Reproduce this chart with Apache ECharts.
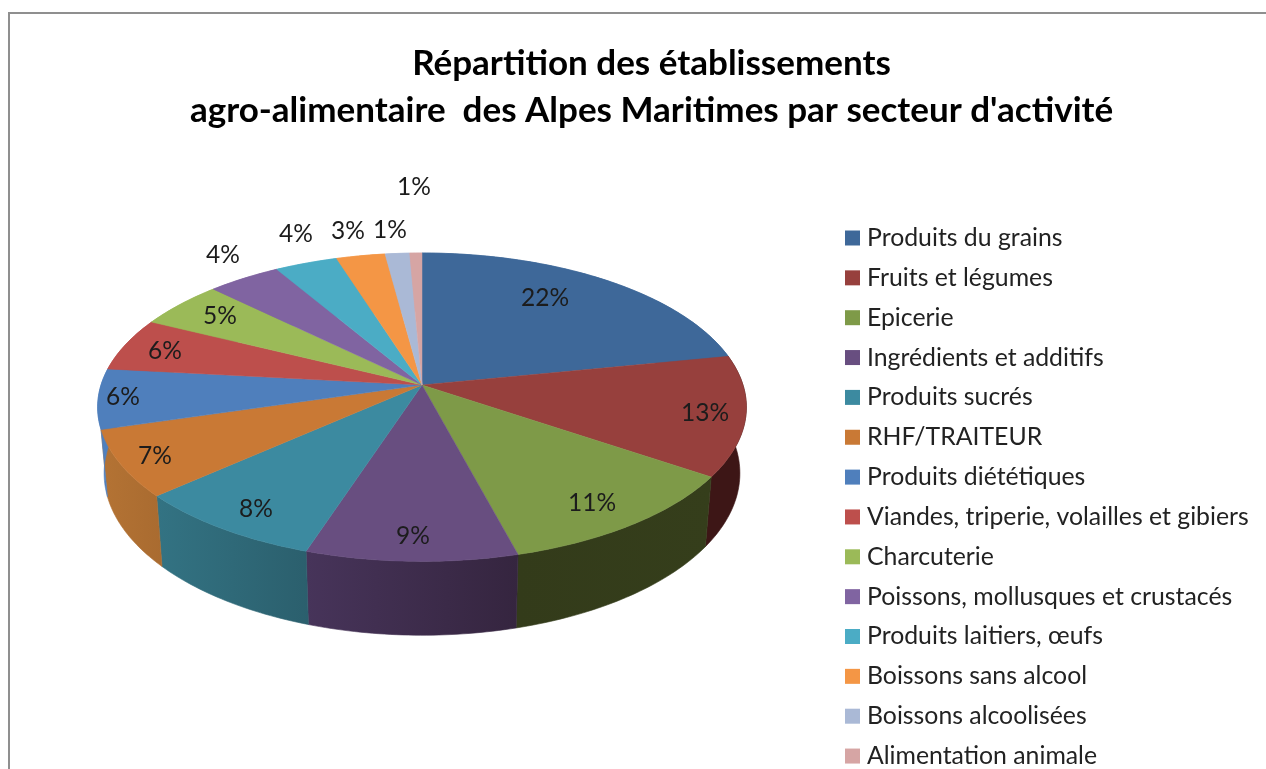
<!DOCTYPE html>
<html>
<head>
<meta charset="utf-8">
<title>Répartition des établissements</title>
<style>
html,body{margin:0;padding:0;background:#fff;}
#main{width:1266px;height:769px;}
</style>
<script src="https://cdn.jsdelivr.net/npm/echarts@6/dist/echarts.min.js"></script>
</head>
<body>
<div id="main"></div>
<script>
// donnees
const categories = ['Produits du grains','Fruits et légumes','Epicerie','Ingrédients et additifs','Produits sucrés','RHF/TRAITEUR','Produits diététiques','Viandes, triperie, volailles et gibiers','Charcuterie','Poissons, mollusques et crustacés','Produits laitiers, œufs','Boissons sans alcool','Boissons alcoolisées','Alimentation animale'];
const shares = [21.9,12.6,11.4,9.2,8.4,7.0,6.3,5.6,5.0,4.2,3.6,2.8,1.4,0.7];
const topColors = ['#3e6899','#97403d','#7e9a48','#684e80','#3c8aa0','#c97935','#4f7fbc','#bd4f4c','#9bba58','#8064a1','#4bacc5','#f49645','#aab9d6','#d6a5a4'];
const sideColors = [['#3e6899','#3e6899'],['#3d1616','#3d1616'],['#333b1a','#353e1b'],['#47345a','#35253f'],['#337383','#2b5f6d'],['#b47334','#a96b30'],['#5080bd','#5080bd'],['#bd4f4c','#bd4f4c'],['#9bba58','#9bba58'],['#8064a1','#8064a1'],['#4bacc5','#4bacc5'],['#f49645','#f49645'],['#aab9d6','#aab9d6'],['#d6a5a4','#d6a5a4']];

// mise en page du camembert (perspective)
const cx = 422, cy = 385, rx = 321, ry = 151, tilt = 0.144;
const labelSpots = [[545,298],[705,413],[592,503],[413,536],[256,509],[155,456],[123,397],[165,351],[220,316],[223,255],[296,234],[348,231],[390,230],[414,187]];
const fontName = 'Lato';

const total = shares.reduce(function(a,b){return a+b;},0);
let cumul = [0];
shares.forEach(function(v,i){cumul.push(cumul[i]+v/total*Math.PI*2);});

function project(t){
	let w = 1+tilt*Math.cos(t);
	return [cx+rx*Math.sin(t)/w, cy-ry*Math.cos(t)/w];
}
// cercle du bas : meme ellipse, un peu plus etroite et decalee
function lower(p){
	return [cx+0.98*(p[0]-cx), cy+65+1.05*(p[1]-cy)];
}
function arc(i){
	let pts = [], n = Math.max(4,Math.ceil((cumul[i+1]-cumul[i])*60));
	for(let s=0;s<=n;s++){
		pts.push(project(cumul[i]+(cumul[i+1]-cumul[i])*s/n));
	}
	return pts;
}

let seriesArr = [{
	type:'custom',
	coordinateSystem:'none',
	silent:true,
	z:1,
	data:shares,
	renderItem:function(params){
		let i = params.dataIndex;
		let top = arc(i);
		let pts = top.concat(top.map(lower).reverse());
		let grad = {type:'linear',x:0,y:0,x2:1,y2:0,colorStops:[{offset:0,color:sideColors[i][0]},{offset:1,color:sideColors[i][1]}]};
		return {
			type:'polygon',
			shape:{points:pts},
			style:{fill:grad,stroke:grad,lineWidth:0.6}
		};
	}
}];

categories.forEach(function(name,i){
	seriesArr.push({
		type:'custom',
		name:name,
		coordinateSystem:'none',
		silent:true,
		z:2,
		itemStyle:{color:topColors[i]},
		data:[shares[i]],
		renderItem:function(){
			return {
				type:'group',
				children:[{
					type:'polygon',
					shape:{points:[[cx,cy]].concat(arc(i))},
					style:{fill:topColors[i],stroke:topColors[i],lineWidth:0.5}
				},{
					type:'text',
					z2:10,
					style:{
						text:Math.round(shares[i])+'%',
						x:labelSpots[i][0],
						y:labelSpots[i][1],
						align:'center',
						verticalAlign:'middle',
						fontFamily:fontName,
						fontSize:24.5,
						fill:'#1c1c1c'
					}
				}]
			};
		}
	});
});

let myChart = echarts.init(document.getElementById('main'));
let option = {
	animation:false,
	backgroundColor:'#fff',
	title:{
		text:"Répartition des établissements\nagro-alimentaire  des Alpes Maritimes par secteur d'activité",
		left:646.5,
		top:35,
		textAlign:'center',
		textStyle:{fontFamily:fontName,fontSize:35,fontWeight:'bold',color:'#000',lineHeight:47}
	},
	legend:{
		orient:'vertical',
		left:840,
		top:220.5,
		height:560,
		icon:'rect',
		itemWidth:15,
		itemHeight:15,
		itemGap:14.85,
		data:categories,
		selectedMode:false,
		textStyle:{fontFamily:fontName,fontSize:24.8,color:'#222',lineHeight:24,padding:[0,0,0,2]}
	},
	graphic:[{
		type:'polyline',
		silent:true,
		shape:{points:[[9,800],[9,13],[1300,13]]},
		style:{fill:null,stroke:'#8f8f8f',lineWidth:2}
	}],
	series:seriesArr
};
myChart.setOption(option);
</script>
</body>
</html>
